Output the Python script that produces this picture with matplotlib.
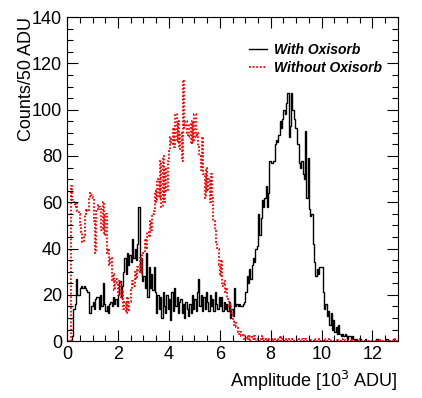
import numpy as np
import matplotlib
matplotlib.use("Agg")
import matplotlib.pyplot as plt
from matplotlib.ticker import MultipleLocator

plt.rcParams['font.family'] = ['Liberation Sans', 'DejaVu Sans']

# histogram binning: 50 ADU bins, in units of 10^3 ADU
bin_width = 0.05
x_max = 13.0

# counts per 50 ADU, one row per 10^3 ADU
with_oxisorb = [
    0, 0, 0, 0, 2, 14, 16, 27, 20, 20, 23, 24, 23, 24, 23, 22, 21, 12, 12, 15,
    17, 14, 18, 19, 19, 14, 20, 15, 25, 16, 13, 15, 12, 16, 17, 15, 19, 16, 18, 15,
    20, 26, 19, 24, 30, 36, 29, 38, 33, 37, 34, 44, 36, 40, 35, 42, 58, 30, 36, 26,
    28, 23, 38, 19, 32, 23, 29, 22, 32, 21, 12, 20, 14, 19, 10, 21, 15, 12, 20, 14,
    18, 9, 21, 13, 23, 15, 19, 12, 17, 18, 12, 16, 10, 17, 14, 11, 16, 12, 20, 14,
    18, 13, 21, 27, 15, 20, 13, 19, 14, 21, 17, 13, 20, 15, 18, 13, 21, 16, 14, 19,
    15, 19, 13, 17, 14, 16, 13, 17, 10, 14, 11, 23, 15, 16, 15, 16, 15, 15, 16, 17,
    21, 28, 25, 31, 27, 33, 36, 34, 40, 41, 55, 46, 53, 61, 58, 62, 67, 58, 64, 78,
    77, 77, 78, 85, 87, 86, 89, 95, 92, 96, 100, 98, 103, 107, 88, 93, 107, 100, 96, 92,
    92, 85, 77, 75, 78, 72, 70, 91, 62, 79, 57, 54, 55, 42, 34, 28, 31, 29, 32, 32,
    32, 21, 14, 16, 11, 13, 7, 12, 5, 9, 4, 6, 3, 7, 3, 2, 3, 2, 3, 2,
    1, 2, 2, 1, 2, 1, 0, 1, 0, 0, 1, 0, 0, 0, 1, 0, 0, 0, 0, 0,
    0, 0, 0, 1, 0, 0, 0, 0, 0, 0, 0, 1, 0, 0, 0, 0, 1, 0, 0, 0,
]

without_oxisorb = [
    0, 0, 0, 67, 61, 60, 58, 60, 56, 55, 50, 47, 43, 46, 55, 57, 56, 62, 64, 63,
    62, 52, 38, 56, 59, 58, 57, 48, 60, 46, 55, 38, 40, 33, 36, 26, 29, 22, 27, 25,
    20, 26, 18, 22, 14, 17, 12, 19, 13, 17, 22, 26, 24, 30, 27, 32, 30, 36, 29, 37,
    38, 44, 40, 47, 45, 52, 48, 55, 56, 65, 60, 70, 62, 78, 58, 80, 60, 75, 65, 78,
    82, 88, 85, 92, 84, 98, 86, 95, 83, 90, 78, 113, 92, 95, 90, 88, 94, 85, 95, 86,
    98, 88, 90, 84, 80, 74, 88, 72, 62, 75, 65, 70, 60, 72, 62, 52, 48, 43, 40, 33,
    28, 35, 24, 26, 21, 23, 18, 15, 16, 12, 9, 7, 8, 6, 4, 3, 4, 2, 3, 1,
    1, 2, 1, 0, 2, 1, 1, 2, 0, 1, 1, 0, 1, 2, 0, 1, 0, 1, 0, 1,
    1, 0, 1, 0, 0, 1, 0, 2, 0, 1, 0, 0, 1, 0, 1, 0, 0, 1, 0, 0,
    0, 1, 0, 0, 1, 0, 0, 1, 0, 0, 0, 1, 0, 0, 1, 0, 0, 0, 1, 0,
    0, 0, 1, 0, 0, 0, 1, 0, 0, 0, 0, 0, 1, 0, 0, 0, 0, 1, 0, 0,
    0, 0, 0, 1, 0, 0, 0, 0, 0, 0, 1, 0, 0, 0, 0, 0, 0, 0, 0, 0,
    0, 0, 0, 0, 0, 1, 0, 0, 0, 0, 0, 0, 0, 0, 0, 0, 0, 1, 0, 0,
]

labels = ['With Oxisorb', 'Without Oxisorb']

edges = np.arange(len(with_oxisorb) + 1) * bin_width

fig = plt.figure(figsize=(4.22, 3.98), dpi=100)
ax = fig.add_axes([0.159, 0.143, 0.784, 0.814])

ax.stairs(with_oxisorb, edges, color='black', lw=1.0, label=labels[0])
ax.stairs(without_oxisorb, edges, color='red', lw=1.3, ls=(0, (1, 1)), label=labels[1])

ax.set_xlim(0, x_max)
ax.set_ylim(0, 140)
ax.xaxis.set_major_locator(MultipleLocator(2))
ax.xaxis.set_minor_locator(MultipleLocator(0.5))
ax.yaxis.set_major_locator(MultipleLocator(20))
ax.yaxis.set_minor_locator(MultipleLocator(5))
ax.tick_params(which='both', direction='in', top=True, right=True, labelsize=13, width=0.8)
ax.tick_params(which='major', length=8)
ax.tick_params(which='minor', length=4)
for s in ax.spines.values():
    s.set_linewidth(0.8)

ax.set_xlabel('Amplitude [10$^3$ ADU]', fontsize=13, loc='right')
ax.set_ylabel('Counts/50 ADU', fontsize=13, loc='top', labelpad=-2)

ax.legend(loc='upper right', bbox_to_anchor=(0.99, 0.96), frameon=False,
          prop={'weight': 'bold', 'style': 'italic', 'size': 10},
          handlelength=1.3, handletextpad=0.5, labelspacing=0.3)

fig.savefig('out.png', dpi=100)
